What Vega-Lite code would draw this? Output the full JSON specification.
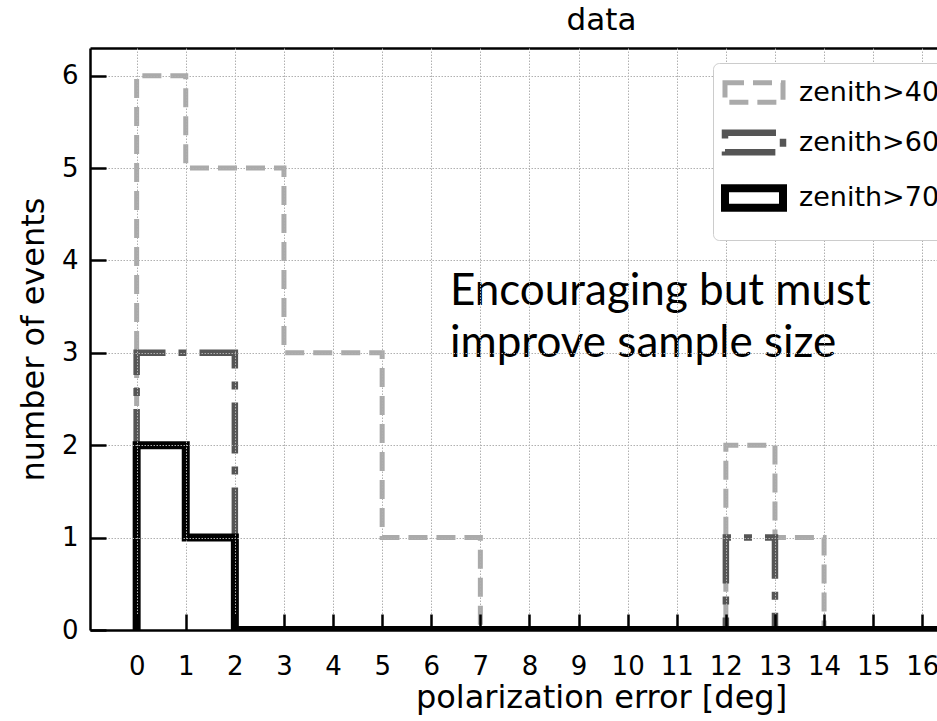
{
  "$schema": "https://vega.github.io/schema/vega-lite/v6.json",
  "autosize": "none",
  "width": 847,
  "height": 582,
  "padding": {"left": 90, "top": 48, "right": 0, "bottom": 91},
  "background": "white",
  "title": {"text": "data", "anchor": "middle", "fontSize": 31, "fontWeight": "normal", "font": "DejaVu Sans", "color": "black", "baseline": "alphabetic", "offset": 16, "dx": 88, "dy": 29},
  "config": {
    "view": {"stroke": null},
    "axis": {"labelFont": "DejaVu Sans", "titleFont": "DejaVu Sans", "labelColor": "black", "titleColor": "black", "labelFontSize": 26, "titleFontSize": 32, "titleFontWeight": "normal", "gridColor": "#b0b0b0", "gridDash": [1.5, 1.5], "gridWidth": 1, "tickColor": "black", "tickWidth": 2.5, "tickSize": -16, "domainColor": "black", "domainWidth": 2.5}
  },
  "resolve": {"axis": {"x": "independent"}},
  "layer": [
    {
      "data": {"values": [
        {"s": "zenith>40", "i": 0, "x": 0, "y": 0},
        {"s": "zenith>40", "i": 1, "x": 0, "y": 6},
        {"s": "zenith>40", "i": 2, "x": 1, "y": 5},
        {"s": "zenith>40", "i": 3, "x": 2, "y": 5},
        {"s": "zenith>40", "i": 4, "x": 3, "y": 3},
        {"s": "zenith>40", "i": 5, "x": 4, "y": 3},
        {"s": "zenith>40", "i": 6, "x": 5, "y": 1},
        {"s": "zenith>40", "i": 7, "x": 6, "y": 1},
        {"s": "zenith>40", "i": 8, "x": 7, "y": 0},
        {"s": "zenith>40", "i": 9, "x": 8, "y": 0},
        {"s": "zenith>40", "i": 10, "x": 9, "y": 0},
        {"s": "zenith>40", "i": 11, "x": 10, "y": 0},
        {"s": "zenith>40", "i": 12, "x": 11, "y": 0},
        {"s": "zenith>40", "i": 13, "x": 12, "y": 2},
        {"s": "zenith>40", "i": 14, "x": 13, "y": 1},
        {"s": "zenith>40", "i": 15, "x": 14, "y": 0},
        {"s": "zenith>40", "i": 16, "x": 15, "y": 0},
        {"s": "zenith>40", "i": 17, "x": 16, "y": 0},
        {"s": "zenith>40", "i": 18, "x": 17, "y": 0},
        {"s": "zenith>40", "i": 19, "x": 18, "y": 0},
        {"s": "zenith>40", "i": 20, "x": 19, "y": 0},
        {"s": "zenith>60", "i": 0, "x": 0, "y": 0},
        {"s": "zenith>60", "i": 1, "x": 0, "y": 3},
        {"s": "zenith>60", "i": 2, "x": 1, "y": 3},
        {"s": "zenith>60", "i": 3, "x": 2, "y": 0},
        {"s": "zenith>60", "i": 4, "x": 3, "y": 0},
        {"s": "zenith>60", "i": 5, "x": 4, "y": 0},
        {"s": "zenith>60", "i": 6, "x": 5, "y": 0},
        {"s": "zenith>60", "i": 7, "x": 6, "y": 0},
        {"s": "zenith>60", "i": 8, "x": 7, "y": 0},
        {"s": "zenith>60", "i": 9, "x": 8, "y": 0},
        {"s": "zenith>60", "i": 10, "x": 9, "y": 0},
        {"s": "zenith>60", "i": 11, "x": 10, "y": 0},
        {"s": "zenith>60", "i": 12, "x": 11, "y": 0},
        {"s": "zenith>60", "i": 13, "x": 12, "y": 1},
        {"s": "zenith>60", "i": 14, "x": 13, "y": 0},
        {"s": "zenith>60", "i": 15, "x": 14, "y": 0},
        {"s": "zenith>60", "i": 16, "x": 15, "y": 0},
        {"s": "zenith>60", "i": 17, "x": 16, "y": 0},
        {"s": "zenith>60", "i": 18, "x": 17, "y": 0},
        {"s": "zenith>60", "i": 19, "x": 18, "y": 0},
        {"s": "zenith>60", "i": 20, "x": 19, "y": 0},
        {"s": "zenith>70", "i": 0, "x": 0, "y": 0},
        {"s": "zenith>70", "i": 1, "x": 0, "y": 2},
        {"s": "zenith>70", "i": 2, "x": 1, "y": 1},
        {"s": "zenith>70", "i": 3, "x": 2, "y": 0},
        {"s": "zenith>70", "i": 4, "x": 3, "y": 0},
        {"s": "zenith>70", "i": 5, "x": 4, "y": 0},
        {"s": "zenith>70", "i": 6, "x": 5, "y": 0},
        {"s": "zenith>70", "i": 7, "x": 6, "y": 0},
        {"s": "zenith>70", "i": 8, "x": 7, "y": 0},
        {"s": "zenith>70", "i": 9, "x": 8, "y": 0},
        {"s": "zenith>70", "i": 10, "x": 9, "y": 0},
        {"s": "zenith>70", "i": 11, "x": 10, "y": 0},
        {"s": "zenith>70", "i": 12, "x": 11, "y": 0},
        {"s": "zenith>70", "i": 13, "x": 12, "y": 0},
        {"s": "zenith>70", "i": 14, "x": 13, "y": 0},
        {"s": "zenith>70", "i": 15, "x": 14, "y": 0},
        {"s": "zenith>70", "i": 16, "x": 15, "y": 0},
        {"s": "zenith>70", "i": 17, "x": 16, "y": 0},
        {"s": "zenith>70", "i": 18, "x": 17, "y": 0},
        {"s": "zenith>70", "i": 19, "x": 18, "y": 0},
        {"s": "zenith>70", "i": 20, "x": 19, "y": 0}
      ]},
      "mark": {"type": "line", "interpolate": "step-after", "clip": true, "strokeCap": "butt"},
      "encoding": {
        "x": {"field": "x", "type": "quantitative", "scale": {"domain": [-0.95, 16.3], "nice": false, "zero": false},
              "axis": {"title": "polarization error [deg]", "values": [0,1,2,3,4,5,6,7,8,9,10,11,12,13,14,15,16], "format": "d", "grid": true, "labelPadding": 39, "titleX": 511, "titleY": 77, "titleBaseline": "alphabetic", "titleAnchor": null, "zindex": 1, "labelFlush": false}},
        "y": {"field": "y", "type": "quantitative", "scale": {"domain": [0, 6.3], "nice": false},
              "axis": {"title": "number of events", "values": [0,1,2,3,4,5,6], "format": "d", "grid": true, "labelPadding": 28, "titleX": -47, "titleBaseline": "alphabetic", "zindex": 1, "labelFlush": false}},
        "order": {"field": "i", "type": "quantitative"},
        "color": {"field": "s", "type": "nominal",
                  "scale": {"domain": ["zenith>40", "zenith>60", "zenith>70"], "range": ["#aaaaaa", "#555555", "#000000"]},
                  "legend": {"title": null, "orient": "none", "legendX": 623, "legendY": 15, "symbolType": "M-3,-1H3V1H-3Z", "symbolSize": 374, "symbolOffset": 11, "symbolFillColor": "transparent", "labelFont": "DejaVu Sans", "labelFontSize": 27, "labelColor": "black", "labelOffset": 31, "labelLimit": 400, "padding": 16, "rowPadding": 6, "fillColor": "white", "strokeColor": "#cccccc", "cornerRadius": 6, "zindex": 3}},
        "strokeDash": {"field": "s", "type": "nominal",
                  "scale": {"domain": ["zenith>40", "zenith>60", "zenith>70"], "range": [[19, 9], [51, 13, 8, 13], [1, 0]]}},
        "strokeWidth": {"field": "s", "type": "ordinal",
                  "scale": {"domain": ["zenith>40", "zenith>60", "zenith>70"], "range": [5, 8, 10]}}
      }
    },
    {
      "data": {"values": [
        {"x": 6.38, "y": 3.52, "label": "Encouraging but must\nimprove sample size"}
      ]},
      "mark": {"type": "text", "align": "left", "baseline": "alphabetic", "font": "Lato", "fontSize": 44, "lineHeight": 52, "lineBreak": "\n", "color": "black"},
      "encoding": {
        "x": {"field": "x", "type": "quantitative", "axis": {"orient": "top", "labels": false, "ticks": false, "grid": false, "title": null, "domainColor": "black", "domainWidth": 2.5}},
        "y": {"field": "y", "type": "quantitative"},
        "text": {"field": "label"}
      }
    }
  ]
}
